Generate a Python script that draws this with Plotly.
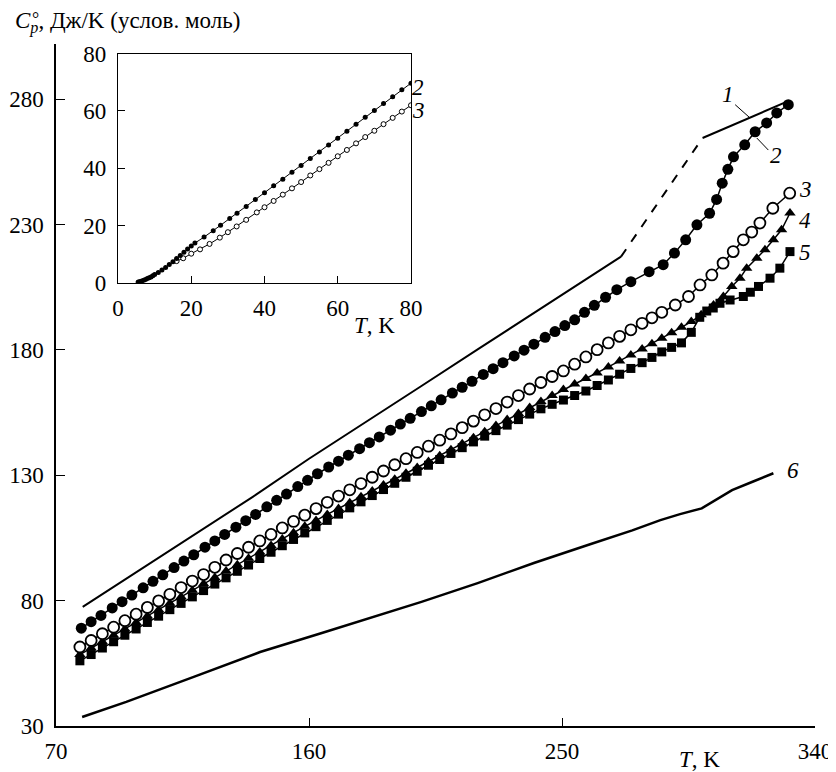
import plotly.graph_objects as go

# ---------------- data ----------------
# main plot, curve 1 (line only): low solid part, dashed part, high solid part
T1_lo = [79.5, 100, 120, 140, 160, 180, 200, 220, 240, 260, 271]
C1_lo = [77.5, 92.3, 106.8, 121.4, 136.6, 151.0, 165.6, 180.2, 194.8, 209.2, 217.2]
T1_dash = [271, 300]
C1_dash = [217.2, 264.5]
T1_hi = [300, 329]
C1_hi = [264.5, 278.5]

# curve 2 (filled circles)
T2 = [79, 82.5, 86, 90, 93.5, 97, 101, 104.5, 108, 112, 115.5, 119, 123, 126.5, 130, 134, 137.5,
      141, 145, 148.5, 152, 156, 159.5, 163, 167, 170.5, 174, 178, 181.5, 185, 189, 192.5, 196,
      200, 203.5, 207, 211, 214.5, 218, 222, 225.5, 229, 233, 236.5, 240, 244, 247.5, 251, 254.5,
      258, 261.5, 265.5, 269.5, 274.5, 281, 286, 290, 294, 298, 302.5, 305, 307, 309, 311, 315,
      318.7, 322.8, 326.4, 330.5]
C2 = [69.0, 71.6, 74.1, 77.1, 79.6, 82.2, 85.1, 87.7, 90.3, 93.2, 95.8, 98.3, 101.3, 103.8, 106.4,
      109.3, 111.9, 114.4, 117.4, 120.0, 122.5, 125.5, 128.0, 130.6, 133.3, 135.6, 138.0, 140.6,
      143.0, 145.3, 148.0, 150.4, 152.7, 155.4, 157.7, 160.1, 162.8, 165.1, 167.5, 170.2, 172.5,
      174.9, 177.6, 179.9, 182.3, 185.0, 187.3, 189.7, 192.0, 195.0, 197.8, 201.0, 204.0, 207.2,
      211.2, 214.0, 218.6, 223.9, 229.9, 234.5, 240.0, 246.5, 252.0, 257.0, 261.8, 267.0, 270.5,
      274.5, 277.8]

# curve 3 (open circles)
T3 = [78.5, 82.5, 86.5, 90.5, 94.5, 98.5, 102.5, 106.5, 110.5, 114.5, 118.5, 122.5, 126.5, 130.5,
      134.5, 138.5, 142.5, 146.5, 150.5, 154.5, 158.5, 162.5, 166.5, 170.5, 174.5, 178.5, 182.5,
      186.5, 190.5, 194.5, 198.5, 202.5, 206.5, 210.5, 214.5, 218.5, 222.5, 226.5, 230.5, 234.5,
      238.5, 242.5, 246.5, 250.5, 254.5, 258.5, 262.5, 266.5, 270.5, 274.5, 278.5, 282, 285.5,
      290.3, 295, 299.1, 303.3, 307.3, 310.9, 314.5, 317.5, 320.4, 325, 331]
C3 = [61.5, 64.1, 66.8, 69.4, 72.0, 74.6, 77.3, 79.9, 82.5, 85.2, 87.8, 90.4, 93.3, 96.2, 98.8,
      101.3, 103.8, 106.4, 109.0, 111.6, 114.1, 116.7, 119.2, 121.7, 124.2, 126.7, 129.2, 131.7,
      134.2, 136.6, 139.1, 141.6, 144.0, 146.5, 149.0, 151.6, 154.1, 156.6, 159.2, 161.8, 164.4,
      167.0, 169.4, 171.6, 174.3, 177.2, 180.1, 182.8, 185.4, 188.0, 190.6, 192.8, 195.0, 197.9,
      201.3, 205.9, 209.9, 214.6, 219.2, 223.9, 227.0, 230.6, 236.5, 242.5]

# curve 4 (filled triangles)
T4 = [78.5, 82.5, 86.5, 90.5, 94.5, 98.5, 102.5, 106.5, 110.5, 114.5, 118.5, 122.5, 126.5, 130.5,
      134.5, 138.5, 142.5, 146.5, 150.5, 154.5, 158.5, 162.5, 166.5, 170.5, 174.5, 178.5, 182.5,
      186.5, 190.5, 194.5, 198.5, 202.5, 206.5, 210.5, 214.5, 218.5, 222.5, 226.5, 230.5, 234.5,
      238.5, 242.5, 246.5, 250.5, 254.5, 258.5, 262.5, 266.5, 270.5, 274.5, 278.5, 282, 285.5,
      289, 292.5, 296, 299.5, 303.9, 307.4, 310.4, 313.3, 315.7, 319.3, 322.2, 325.2, 328.1, 331.1]
C4 = [58.5, 61.1, 63.6, 66.2, 68.7, 71.3, 73.9, 76.4, 79.0, 81.5, 84.1, 86.7, 89.2, 91.8, 94.3,
      96.9, 99.4, 102.0, 104.6, 107.1, 109.7, 112.0, 114.4, 116.7, 119.0, 121.4, 123.7, 126.1,
      128.4, 130.8, 133.1, 135.5, 137.8, 140.2, 142.6, 145.0, 147.4, 149.8, 152.2, 154.6, 157.0,
      159.4, 161.8, 164.2, 166.4, 168.6, 170.8, 173.2, 175.6, 178.0, 180.4, 182.5, 184.6, 186.8,
      189.0, 191.3, 194.0, 197.9, 201.3, 205.3, 208.6, 212.6, 216.6, 219.9, 223.9, 227.9, 234.6]

# curve 5 (filled squares)
T5 = [78.5, 82.5, 86.5, 90.5, 94.5, 98.5, 102.5, 106.5, 110.5, 114.5, 118.5, 122.5, 126.5, 130.5,
      134.5, 138.5, 142.5, 146.5, 150.5, 154.5, 158.5, 162.5, 166.5, 170.5, 174.5, 178.5, 182.5,
      186.5, 190.5, 194.5, 198.5, 202.5, 206.5, 210.5, 214.5, 218.5, 222.5, 226.5, 230.5, 234.5,
      238.5, 242.5, 246.5, 250.5, 254.5, 258.5, 262.5, 266.5, 270.5, 274.5, 278.5, 282, 285.5,
      289, 292.5, 296, 299, 301.5, 303.8, 306.2, 309.8, 314.5, 317, 319.9, 324, 327.5, 331.1]
C5 = [56.0, 58.5, 61.1, 63.6, 66.2, 68.7, 71.3, 73.8, 76.4, 78.9, 81.5, 84.0, 86.6, 89.1, 91.7,
      94.2, 96.8, 99.3, 101.9, 104.4, 107.0, 109.5, 112.0, 114.5, 117.0, 119.4, 121.9, 124.3,
      126.8, 129.2, 131.6, 134.0, 136.3, 138.7, 141.0, 143.3, 145.6, 147.8, 150.0, 152.2, 154.4,
      156.5, 158.3, 160.0, 161.8, 163.6, 165.8, 168.0, 170.3, 172.6, 174.9, 177.0, 179.2, 181.0,
      182.8, 187.0, 193.0, 195.5, 196.7, 198.6, 199.9, 201.3, 203.0, 205.3, 208.6, 212.6, 219.2]

# curve 6 (line only)
T6 = [79.3, 95, 119, 142.6, 164, 180, 200, 220, 240, 260, 275, 285, 292, 299.7, 305, 310.5, 318, 325.2]
C6 = [33.6, 39.6, 49.6, 59.5, 66.9, 72.5, 79.5, 87.0, 95.0, 102.5, 108.0, 112.1, 114.5, 116.8,
      120.5, 124.1, 127.5, 130.8]

# inset: curve 2 (small filled dots) and curve 3 (small open circles)
Ti2 = [5.5, 6, 6.5, 7, 7.5, 8, 8.5, 9, 9.5, 10, 11, 12, 13, 14, 15, 16, 17, 18, 19, 20, 21,
       23.5, 26, 28, 30.5, 32.5, 35, 37.5, 40, 42.5, 45, 47.5, 50, 52.5, 55, 57.5, 60, 62.5, 65,
       67.5, 70, 72.5, 75, 77.5, 80]
Ci2 = [0.3, 0.5, 0.7, 0.9, 1.2, 1.5, 1.8, 2.1, 2.5, 2.9, 3.6, 4.5, 5.4, 6.4, 7.4, 8.5, 9.6,
       10.7, 11.8, 12.9, 13.9, 16.0, 18.2, 20.1, 22.5, 24.3, 26.7, 29.1, 31.5, 33.9, 36.2, 38.6,
       41.0, 43.4, 45.7, 48.1, 50.5, 52.9, 55.4, 57.8, 60.2, 62.6, 65.0, 67.4, 69.7]
Ti3 = [16, 17.8, 20, 22.4, 25, 27.8, 30, 32.4, 35, 37.9, 40, 42.5, 45, 47.5,
       50, 52.5, 55, 57.5, 60, 62.5, 65, 67.5, 70, 72.5, 75, 77.5, 80]
Ci3 = [7.6, 8.6, 10.2, 11.7, 13.6, 15.8, 17.7, 19.7, 22.0, 24.6, 26.4,
       28.6, 30.8, 33.0, 35.2, 37.5, 39.7, 41.9, 44.2, 46.4, 48.7, 50.9, 53.1, 55.4, 57.6, 59.8, 62.0]

main_xticks = [70, 160, 250, 340]
main_yticks = [30, 80, 130, 180, 230, 280]
inset_ticks = [0, 20, 40, 60, 80]

# ---------------- figure ----------------
SERIF = "Liberation Serif, Times New Roman, serif"
fig = go.Figure()

fig.add_trace(go.Scatter(x=T1_lo, y=C1_lo, mode="lines", line=dict(color="black", width=2)))
fig.add_trace(go.Scatter(x=T1_dash, y=C1_dash, mode="lines",
                         line=dict(color="black", width=2, dash="dash")))
fig.add_trace(go.Scatter(x=T1_hi, y=C1_hi, mode="lines", line=dict(color="black", width=2)))
fig.add_trace(go.Scatter(x=T6, y=C6, mode="lines", line=dict(color="black", width=2.5)))

fig.add_trace(go.Scatter(x=T5, y=C5, mode="lines+markers", line=dict(color="black", width=1.5),
                         marker=dict(symbol="square", size=9, color="black")))
fig.add_trace(go.Scatter(x=T4, y=C4, mode="lines+markers", line=dict(color="black", width=1.5),
                         marker=dict(symbol="triangle-up", size=10, color="black")))
fig.add_trace(go.Scatter(x=T3, y=C3, mode="lines+markers", line=dict(color="black", width=1.5),
                         marker=dict(symbol="circle", size=11, color="white",
                                     line=dict(color="black", width=1.8))))
fig.add_trace(go.Scatter(x=T2, y=C2, mode="lines+markers", line=dict(color="black", width=1.5),
                         marker=dict(symbol="circle", size=11, color="black")))

# inset
fig.add_trace(go.Scatter(x=Ti3, y=Ci3, mode="lines+markers", xaxis="x2", yaxis="y2",
                         line=dict(color="black", width=1),
                         marker=dict(symbol="circle", size=5, color="white",
                                     line=dict(color="black", width=1))))
fig.add_trace(go.Scatter(x=Ti2, y=Ci2, mode="lines+markers", xaxis="x2", yaxis="y2",
                         line=dict(color="black", width=1),
                         marker=dict(symbol="circle", size=5, color="black")))

tickfont = dict(family=SERIF, size=23, color="black")

common = dict(showgrid=False, zeroline=False, tickfont=tickfont, automargin=False,
              tickcolor="black", linecolor="black", showline=True, ticks="inside")

# page body has an 8px margin, so the figure is made 8px smaller and the margins shifted
fig.update_layout(
    width=828, height=764,
    margin=dict(l=48, r=21, t=36, b=46, autoexpand=False),
    paper_bgcolor="white", plot_bgcolor="white",
    showlegend=False,
    xaxis=dict(range=[70, 340], tickvals=main_xticks, ticklen=8, tickwidth=1.2, linewidth=1.5,
               ticklabelstandoff=4, **common),
    yaxis=dict(range=[30, 302], tickvals=main_yticks, ticklen=9, tickwidth=1.2, linewidth=1.5,
               ticklabelstandoff=6, **common),
    xaxis2=dict(domain=[0.0817, 0.4677], anchor="y2", range=[0, 80], tickvals=inset_ticks,
                ticklen=7, mirror=True, linewidth=1.2, ticklabelstandoff=4, **common),
    yaxis2=dict(domain=[0.6497, 0.9858], anchor="x2", range=[0, 80], tickvals=inset_ticks,
                ticklen=7, mirror=True, linewidth=1.2, ticklabelstandoff=6, **common),
)

lab = dict(family=SERIF, size=23, color="black")

# axis titles (paper coordinates: plot area width=759px, height=682px)
fig.add_annotation(xref="paper", yref="paper", x=-0.0567, y=1.032, xanchor="left", yanchor="middle",
                   text="<i>C<sub>p</sub></i>, Дж/K (услов. моль)", showarrow=False, font=lab)
fig.add_annotation(xref="paper", yref="paper", x=-0.0264, y=1.0367, xanchor="center", yanchor="middle",
                   text="°", showarrow=False, font=dict(family=SERIF, size=18, color="black"))
fig.add_annotation(xref="paper", yref="paper", x=0.848, y=-0.0484, xanchor="center", yanchor="middle",
                   text="<i>T</i>, K", showarrow=False, font=lab)
fig.add_annotation(xref="x2", yref="paper", x=70, y=0.587, xanchor="center", yanchor="middle",
                   text="<i>T</i>, K", showarrow=False, font=lab)

# curve labels (main)
for txt, tx, cy in [("1", 309.1, 282.0), ("2", 326.0, 257.5), ("3", 336.5, 243.8),
                    ("4", 336.5, 231.8), ("5", 336.5, 218.7), ("6", 332.0, 132.1)]:
    fig.add_annotation(x=tx, y=cy, xref="x", yref="y", text="<i>" + txt + "</i>",
                       showarrow=False, font=lab, xanchor="center", yanchor="middle")

# leader lines
fig.add_shape(type="line", xref="x", yref="y", x0=311.6, y0=277.8, x1=316.9, y1=272.5,
              line=dict(color="black", width=1))
fig.add_shape(type="line", xref="x", yref="y", x0=319.3, y0=264.5, x1=323.4, y1=259.7,
              line=dict(color="black", width=1))

# inset labels (just right of the curve ends), in paper coordinates
fig.add_annotation(x=0.477, y=0.9355, xref="paper", yref="paper", text="<i>2</i>",
                   showarrow=False, font=lab, xanchor="center", yanchor="middle")
fig.add_annotation(x=0.477, y=0.9032, xref="paper", yref="paper", text="<i>3</i>",
                   showarrow=False, font=lab, xanchor="center", yanchor="middle")

fig.write_html("out.html")
